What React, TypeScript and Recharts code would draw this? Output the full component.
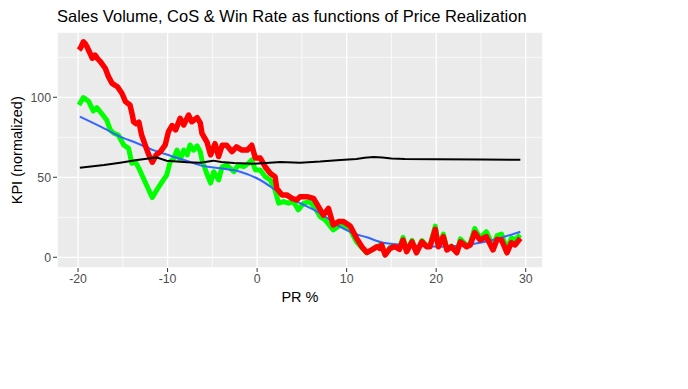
import React from 'react';
import { LineChart, Line, XAxis, YAxis, CartesianGrid } from 'recharts';

// [PR %, KPI]
const winRatePoints: [number, number][] = [
  [-19.9, 129.6], [-19.7, 131], [-19.4, 134.7], [-19.2, 133.5], [-19.0, 131.6], [-18.7, 128],
  [-18.4, 124.4], [-18.1, 126.4], [-17.8, 124], [-17.5, 122.3], [-16.95, 118], [-16.6, 112.9],
  [-16.2, 108.7], [-15.6, 106.6], [-15.1, 102.5], [-14.7, 97.3], [-14.2, 95.2], [-13.9, 88],
  [-13.8, 84.7], [-13.5, 83.5], [-13.2, 84.4], [-12.9, 76.4], [-12.5, 70.2], [-12.1, 64],
  [-11.7, 59.4], [-11.26, 64], [-10.8, 66], [-10.26, 70.2], [-9.9, 78.5], [-9.5, 82.3],
  [-9.1, 79.6], [-8.6, 86.9], [-8.2, 82.7], [-7.65, 88.9], [-7.3, 84.7], [-6.7, 87.3],
  [-6.35, 84], [-6.16, 77.5], [-5.6, 72], [-5.2, 64], [-4.7, 71], [-4.3, 63], [-3.9, 70],
  [-3.4, 70], [-2.8, 66], [-2.3, 69], [-1.7, 67], [-1.1, 67], [-0.6, 70], [-0.2, 62],
  [0.35, 62], [0.9, 56.6], [1.46, 52.5], [2.0, 50.4], [2.2, 43.1], [2.77, 39], [3.3, 39],
  [3.9, 36.8], [4.4, 35.8], [4.8, 37.9], [5.55, 37.9], [6.3, 36.8], [6.85, 31.6], [7.4, 26.4],
  [7.97, 30.6], [8.5, 20.2], [9.1, 22.3], [9.65, 22.3], [10.4, 19.5], [11.1, 12], [11.7, 6.6],
  [12.25, 3], [12.8, 4.6], [13.4, 6.6], [13.7, 5.6], [13.9, 7.7], [14.3, 1.5], [14.85, 5.6],
  [15.4, 6.6], [15.9, 5], [16.3, 10.8], [16.7, 3.5], [17.3, 9.7], [17.8, 2.8], [18.4, 9.7],
  [18.95, 6.6], [19.3, 6.6], [19.9, 17.5], [20.25, 6.6], [20.8, 12.9], [21.2, 4.6], [21.7, 6.6],
  [22.3, 2.8], [22.7, 9.7], [23.4, 6.6], [23.8, 7.7], [24.3, 15.4], [24.9, 10.8], [25.6, 12.9],
  [26.35, 4.6], [26.8, 11.2], [27.3, 10.8], [27.9, 2.8], [28.4, 9.1], [28.8, 7.7], [29.4, 11.9],
];

const salesVolumePoints: [number, number][] = [
  [-19.9, 95.2], [-19.4, 99.8], [-18.8, 97.3], [-18.3, 91.4], [-17.9, 93.5], [-17.3, 89.4],
  [-16.8, 85.8], [-16.4, 79.6], [-16.0, 77.5], [-15.5, 76.4], [-14.9, 70.2], [-14.35, 68.1],
  [-14.0, 58.8], [-13.6, 59.8], [-13.2, 55.6], [-12.7, 49.4], [-12.1, 42.1], [-11.7, 37.3],
  [-11.2, 42.1], [-10.6, 47.3], [-10.1, 51.4], [-9.7, 59.8], [-9.3, 61.9], [-8.95, 67],
  [-8.6, 60.8], [-8.2, 67], [-7.8, 64], [-7.5, 70.2], [-7.1, 67], [-6.7, 69.6], [-6.35, 66],
  [-6.16, 60.8], [-5.6, 52], [-5.2, 46.4], [-4.85, 53.5], [-4.3, 48.3], [-3.9, 56.6],
  [-3.4, 57.7], [-2.6, 53.5], [-2.1, 57.7], [-1.5, 56.6], [-0.96, 58.8], [-0.6, 60.8],
  [-0.2, 54.6], [0.35, 54.6], [0.9, 50.4], [1.46, 48.3], [2.0, 42.1], [2.4, 33.8], [2.95, 34.8],
  [3.5, 33.8], [4.06, 34.8], [4.6, 29.6], [5.2, 33.8], [5.9, 34.8], [6.5, 30.6], [7.04, 25.4],
  [7.6, 23.3], [8.5, 17.1], [9.3, 20.2], [10.4, 17.1], [11.1, 9.7], [11.7, 6], [12.25, 2.8],
  [12.8, 4.6], [13.4, 6.6], [13.9, 8], [14.3, 1.5], [14.85, 6], [15.4, 7], [15.9, 6],
  [16.3, 12.5], [16.7, 4], [17.3, 10.5], [17.8, 3], [18.4, 10.5], [18.95, 7], [19.3, 7],
  [19.9, 19.5], [20.25, 7], [20.8, 14.5], [21.2, 5], [21.7, 7], [22.3, 3], [22.7, 11.5],
  [23.4, 7.5], [23.8, 8.5], [24.3, 18], [24.9, 12], [25.6, 16], [26.35, 7], [26.8, 13.5],
  [27.3, 14.5], [27.9, 5], [28.4, 12], [28.8, 11], [29.4, 14],
];

const smoothPoints: [number, number][] = [
  [-19.8, 87.9], [-17.1, 80.6], [-15.3, 75.4], [-13.4, 71.3], [-11.6, 67], [-9.7, 63.5],
  [-7.8, 60.2], [-6.0, 57], [-4.1, 55.6], [-1.9, 53.5], [0.35, 48.3], [2.6, 40], [4.8, 33.8],
  [7.04, 27.5], [9.3, 19], [10.75, 15], [12.25, 12.5], [14.1, 9.1], [16.7, 7.7], [20.4, 6.6],
  [24.1, 8.3], [26.35, 10.8], [29.4, 16],
];

const cosPoints: [number, number][] = [
  [-19.8, 56], [-17.1, 57.7], [-15.3, 59.1], [-13.4, 60.8], [-11.9, 61.9], [-11.2, 62.3],
  [-10.1, 60.4], [-7.8, 59.4], [-6.35, 59.1], [-4.9, 60.4], [-4.0, 59.5], [-2.6, 59],
  [-0.4, 58.5], [1.0, 59], [2.6, 59.6], [4.8, 59.1], [7.04, 59.8], [9.3, 60.8], [11.1, 61.4],
  [12.0, 62.2], [13.0, 62.6], [14.0, 62.4], [15.0, 61.8], [16.5, 61.5], [20.0, 61.3],
  [25.0, 61.1], [29.4, 61],
];

const xTicks = [-20, -10, 0, 10, 20, 30];
const xMinorTicks = [-15, -5, 5, 15, 25];
const yTicks = [0, 50, 100];
const yMinorTicks = [25, 75, 125];

const xDomain: [number, number] = [-22.35, 31.93];
const yDomain: [number, number] = [-6.7, 140.8];

const toData = (pts: [number, number][]) => pts.map(([x, y]) => ({ x, y }));

const FONT = '"Liberation Sans", Arial, sans-serif';

export default function App() {
  const tickStyle = { fill: '#4D4D4D', fontSize: 12.3, fontFamily: FONT };
  return (
    <div style={{ position: 'absolute', left: 0, top: 0, width: 688, height: 389, background: '#fff', fontFamily: FONT }}>
      <div style={{ position: 'absolute', left: 57, top: 8, fontSize: 16.5, lineHeight: 1, color: '#000', whiteSpace: 'nowrap' }}>
        Sales Volume, CoS &amp; Win Rate as functions of Price Realization
      </div>
      <div style={{ position: 'absolute', left: 57, width: 486, top: 290, fontSize: 14.5, lineHeight: 1, color: '#000', textAlign: 'center' }}>
        PR %
      </div>
      <div style={{ position: 'absolute', left: 17 - 100, width: 200, top: 150 - 7, fontSize: 14.5, lineHeight: 1, color: '#000', textAlign: 'center', transform: 'rotate(-90deg)', transformOrigin: '50% 50%' }}>
        KPI (normalized)
      </div>
      <LineChart width={688} height={389} margin={{ top: 32, right: 145, bottom: 0, left: 0 }} style={{ position: 'absolute', left: 0, top: 0 }}>
        <XAxis xAxisId="minor" type="number" dataKey="x" domain={xDomain} ticks={xMinorTicks} hide allowDataOverflow />
        <YAxis yAxisId="minor" type="number" domain={yDomain} ticks={yMinorTicks} hide allowDataOverflow />
        <CartesianGrid xAxisId="minor" yAxisId="minor" fill="#EBEBEB" stroke="#FFFFFF" strokeWidth={0.7} />
        <CartesianGrid stroke="#FFFFFF" strokeWidth={1.3} />
        <XAxis
          type="number"
          dataKey="x"
          domain={xDomain}
          ticks={xTicks}
          allowDataOverflow
          height={121}
          axisLine={false}
          tickSize={4}
          tickLine={{ stroke: '#333333' }}
          tick={tickStyle}
        />
        <YAxis
          type="number"
          domain={yDomain}
          ticks={yTicks}
          allowDataOverflow
          width={57}
          axisLine={false}
          tickSize={4}
          tickLine={{ stroke: '#333333' }}
          tick={tickStyle}
        />
        <Line data={toData(salesVolumePoints)} dataKey="y" type="linear" stroke="#00FF00" strokeWidth={5} dot={false} isAnimationActive={false} strokeLinejoin="round" />
        <Line data={toData(smoothPoints)} dataKey="y" type="monotone" stroke="#3366FF" strokeWidth={2} dot={false} isAnimationActive={false} />
        <Line data={toData(winRatePoints)} dataKey="y" type="linear" stroke="#FF0000" strokeWidth={5.5} dot={false} isAnimationActive={false} strokeLinejoin="round" />
        <Line data={toData(cosPoints)} dataKey="y" type="linear" stroke="#000000" strokeWidth={2} dot={false} isAnimationActive={false} />
      </LineChart>
    </div>
  );
}
